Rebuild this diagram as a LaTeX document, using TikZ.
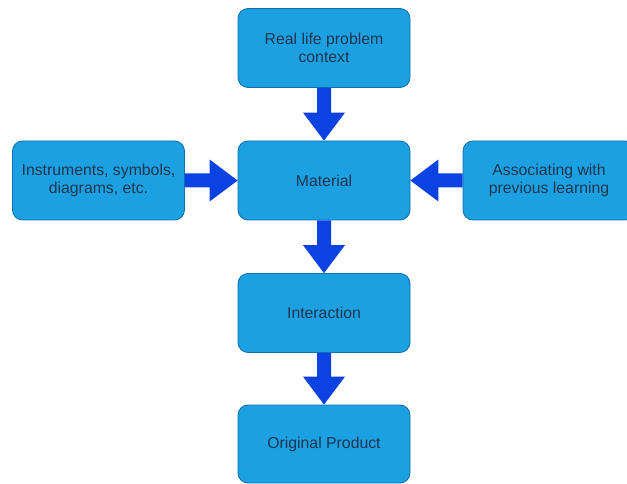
\documentclass[tikz,border=0pt]{standalone}
\usepackage{fontspec}
\setmainfont{Liberation Sans}
\usetikzlibrary{arrows.meta,calc}
\definecolor{boxfill}{HTML}{1BA1E2}
\definecolor{boxline}{HTML}{0F6FAF}
\definecolor{boxtext}{HTML}{1E3550}
\definecolor{flow}{HTML}{0B42E4}
\tikzset{
  stepbox/.style={draw=boxline, fill=boxfill, line width=0.8pt, rounded corners=10pt,
    minimum width=172pt, minimum height=79pt, inner sep=0pt, align=center,
    text=boxtext, font=\fontsize{15.8}{18}\selectfont},
  fatarrow/.style={draw=none, fill=flow},
}
% block arrow from point (#1) to point (#2); shaft 14pt wide, head 42pt wide, 28pt long
\newcommand{\blockarrow}[2]{%
  \path[fatarrow] let \p1=(#1), \p2=(#2), \n1={atan2(\y2-\y1,\x2-\x1)}, \n2={veclen(\x2-\x1,\y2-\y1)} in
    [shift={(\p1)}, rotate=\n1]
    (0,-7pt) -- (\n2-28pt,-7pt) -- (\n2-28pt,-21pt) -- (\n2,0) -- (\n2-28pt,21pt) -- (\n2-28pt,7pt) -- (0,7pt) -- cycle;}
\begin{document}
\begin{tikzpicture}[x=1pt,y=-1pt]
  \useasboundingbox (0,0) rectangle (627,484);
  \begin{scope}
  \clip (0,0) rectangle (627,484);
  \node[stepbox] (ctx) at (324,48) {Real life problem\\context};
  \node[stepbox] (mat) at (324,180.5) {Material};
  \node[stepbox] (ins) at (98.5,180.5) {Instruments, symbols,\\diagrams, etc.};
  \node[stepbox] (asc) at (549,180.5) {Associating with\\previous learning};
  \node[stepbox] (int) at (324,313) {Interaction};
  \node[stepbox, minimum height=78pt] (org) at (324,444) {Original Product};
  \end{scope}
  \blockarrow{ctx.south}{mat.north}
  \blockarrow{mat.south}{int.north}
  \blockarrow{int.south}{org.north}
  \blockarrow{ins.east}{mat.west}
  \blockarrow{asc.west}{mat.east}
\end{tikzpicture}
\end{document}
